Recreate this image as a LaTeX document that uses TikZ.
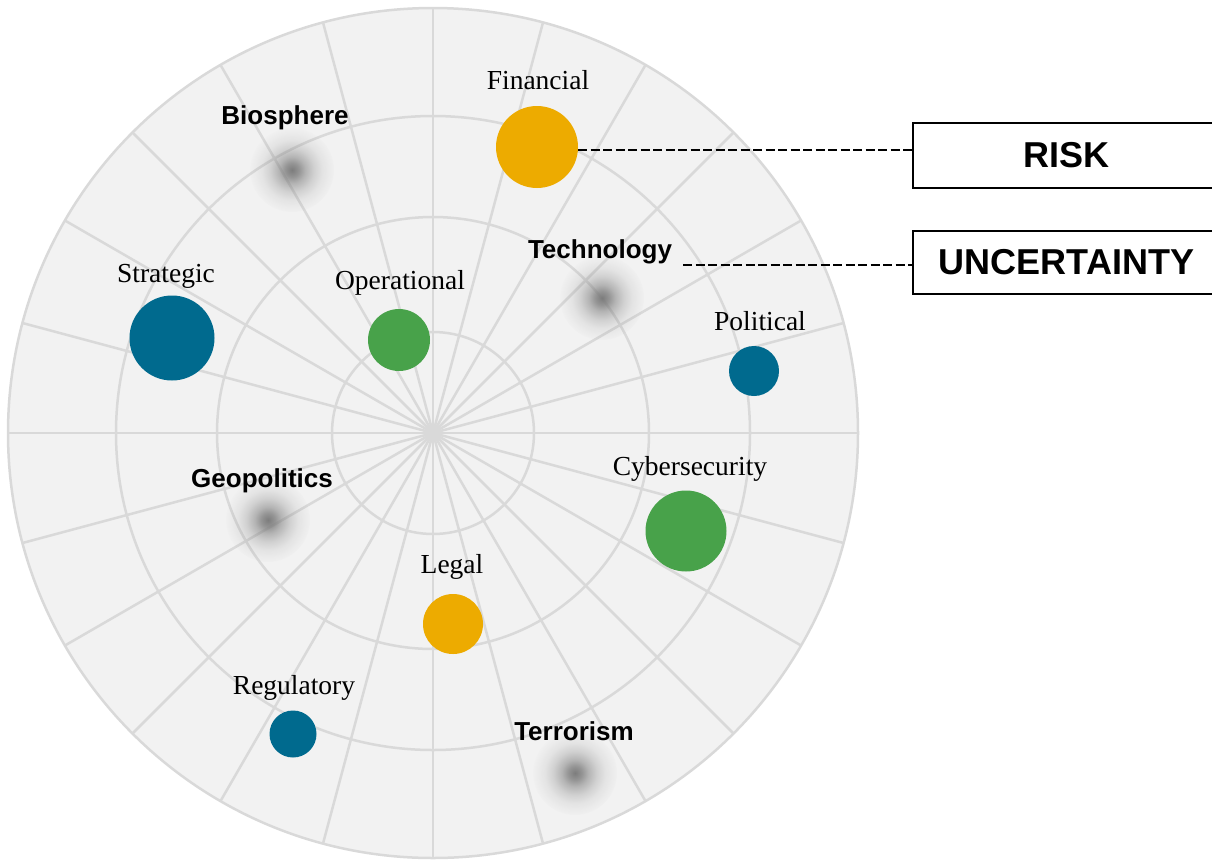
\documentclass[tikz,border=0pt]{standalone}
\usepackage{fontspec}
\setmainfont{Liberation Serif}
\newfontfamily\bsans{Liberation Sans}
\usetikzlibrary{fadings}
\definecolor{bgc}{HTML}{F2F2F2}
\definecolor{gridc}{HTML}{D9D9D9}
\definecolor{yel}{HTML}{EDAB00}
\definecolor{blu}{HTML}{006A8E}
\definecolor{grn}{HTML}{48A24A}
\definecolor{blobc}{RGB}{125,125,125}
\pgfdeclareradialshading{blobsh}{\pgfpointorigin}{color(0bp)=(white); color(4bp)=(white!80!black); color(8bp)=(white!52!black); color(13bp)=(white!28!black); color(18bp)=(white!12!black); color(23bp)=(white!4!black); color(26bp)=(black); color(50bp)=(black)}
\pgfdeclarefading{blob}{\pgfuseshading{blobsh}}
\tikzset{
  gridline/.style={draw=gridc, line width=2.5pt},
  bubble/.style={circle, inner sep=0pt, draw=none},
  serlab/.style={anchor=base, font=\fontsize{27.5}{30}\selectfont, inner sep=0pt},
  boldlab/.style={anchor=base, font=\bsans\bfseries\fontsize{26}{30}\selectfont, inner sep=0pt},
  catbox/.style={draw=black, line width=1.8pt, inner sep=0pt, font=\bsans\bfseries\fontsize{36}{40}\selectfont},
  conn/.style={draw=black, line width=2pt, dash pattern=on 9pt off 3.5pt},
}
\begin{document}
\begin{tikzpicture}[x=1pt, y=-1pt]
\useasboundingbox (0,0) rectangle (1212,860);
\coordinate (c) at (433,433);
% background disc
\fill[bgc] (c) circle (425pt);
\foreach \a in {0,15,...,345} \draw[gridline] (c) -- ++(\a:425pt);
\foreach \r in {101,216,317} \draw[gridline] (c) circle (\r pt);
\draw[gridline] (c) circle (425pt);
% blurred uncertainty spots
\fill[blobc, path fading=blob] (292,170) circle (42pt);
\fill[blobc, path fading=blob] (602,298) circle (42pt);
\fill[blobc, path fading=blob] (268,520) circle (42pt);
\fill[blobc, path fading=blob] (575,773) circle (42pt);
% bubbles
\node[bubble, fill=yel, minimum size=82pt] (fin) at (537,147) {};
\node[bubble, fill=blu, minimum size=85pt] (str) at (172,338) {};
\node[bubble, fill=grn, minimum size=62pt] (ope) at (399,340) {};
\node[bubble, fill=blu, minimum size=50pt] (pol) at (754,371) {};
\node[bubble, fill=grn, minimum size=81pt] (cyb) at (686,531) {};
\node[bubble, fill=yel, minimum size=60pt] (leg) at (453,624) {};
\node[bubble, fill=blu, minimum size=47pt] (reg) at (293,734) {};
% labels
\node[serlab] (finl) at (538,89) {Financial};
\node[serlab] (strl) at (166,282) {Strategic};
\node[serlab] (opel) at (400,289) {Operational};
\node[serlab] (poll) at (760,330) {Political};
\node[serlab] (cybl) at (690,475) {Cybersecurity};
\node[serlab] (legl) at (452,573) {Legal};
\node[serlab] (regl) at (294,694) {Regulatory};
\node[boldlab] (bio) at (285,124) {Biosphere};
\node[boldlab] (tec) at (600,258) {Technology};
\node[boldlab] (geo) at (262,487) {Geopolitics};
\node[boldlab] (ter) at (574,740) {Terrorism};
% category boxes
\node[catbox, minimum width=307pt, minimum height=65pt] (risk) at (1066.5,155.5) {RISK};
\node[catbox, minimum width=307pt, minimum height=63pt] (unc) at (1066.5,262.5) {UNCERTAINTY};
% connectors
\coordinate (r1) at (578,150);
\coordinate (u1) at (683,265);
\draw[conn] (r1) -- (r1 -| risk.west);
\draw[conn] (u1) -- (u1 -| unc.west);
\end{tikzpicture}
\end{document}
